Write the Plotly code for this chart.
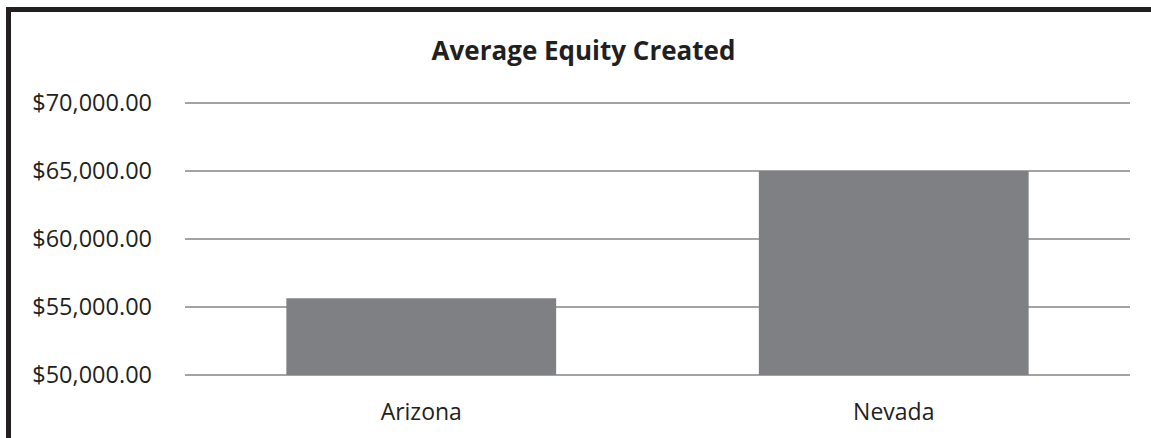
import plotly.graph_objects as go

states = ["Arizona", "Nevada"]
equity = [55650, 65000]
y_ticks = [50000, 55000, 60000, 65000, 70000]
y_tick_labels = ["$50,000.00", "$55,000.00", "$60,000.00", "$65,000.00", "$70,000.00"]
axis_min, axis_max = 50000, 70000

W, H = 1151, 438
# padding (in data units) so edge gridlines are drawn; 3px at 68px per 5000
pad = 3 * (axis_max - axis_min) / 272
L, R, T, B = 185, 21, 100, 60
ink = "#231f20"
grid = "#a3a3a3"

# bars start at the axis minimum, as in the spreadsheet chart
fig = go.Figure(go.Bar(
    x=states, y=[v - axis_min for v in equity], base=axis_min,
    marker=dict(color="#7f8084", line=dict(width=0)),
    width=0.571,
))


def px_to_paper(px, py):
    pw, ph = W - L - R, H - T - B
    return (px - L) / pw, (H - B - py) / ph


x0, y0 = px_to_paper(8.5, 9.5)
x1, _ = px_to_paper(1200, 480)

fig.update_layout(
    width=W, height=H,
    margin=dict(l=L, r=R, t=T, b=B),
    paper_bgcolor="white", plot_bgcolor="white",
    font=dict(family="Open Sans", size=23, color=ink),
    title=dict(text="<b>Average Equity Created</b>", x=583.5 / W, xanchor="center",
               y=1 - 51 / H, yanchor="middle", font=dict(size=26, color=ink)),
    showlegend=False,
    bargap=0.429,
    xaxis=dict(showgrid=False, showline=False, automargin=False,
               ticks="", ticklabelstandoff=18, fixedrange=True),
    yaxis=dict(range=[axis_min - pad, axis_max + pad], tickvals=y_ticks, ticktext=y_tick_labels,
               showgrid=True, gridcolor=grid, gridwidth=2, zeroline=False,
               automargin=False, ticks="", ticklabelstandoff=32,
               tickfont=dict(size=23.5), fixedrange=True),
    shapes=[dict(type="rect", xref="paper", yref="paper",
                 x0=x0, y0=-1.0, x1=x1, y1=y0,
                 line=dict(color=ink, width=5), layer="above")],
)

fig.write_html("out.html", config={"displayModeBar": False},
               post_script="document.body.style.margin='0';")
